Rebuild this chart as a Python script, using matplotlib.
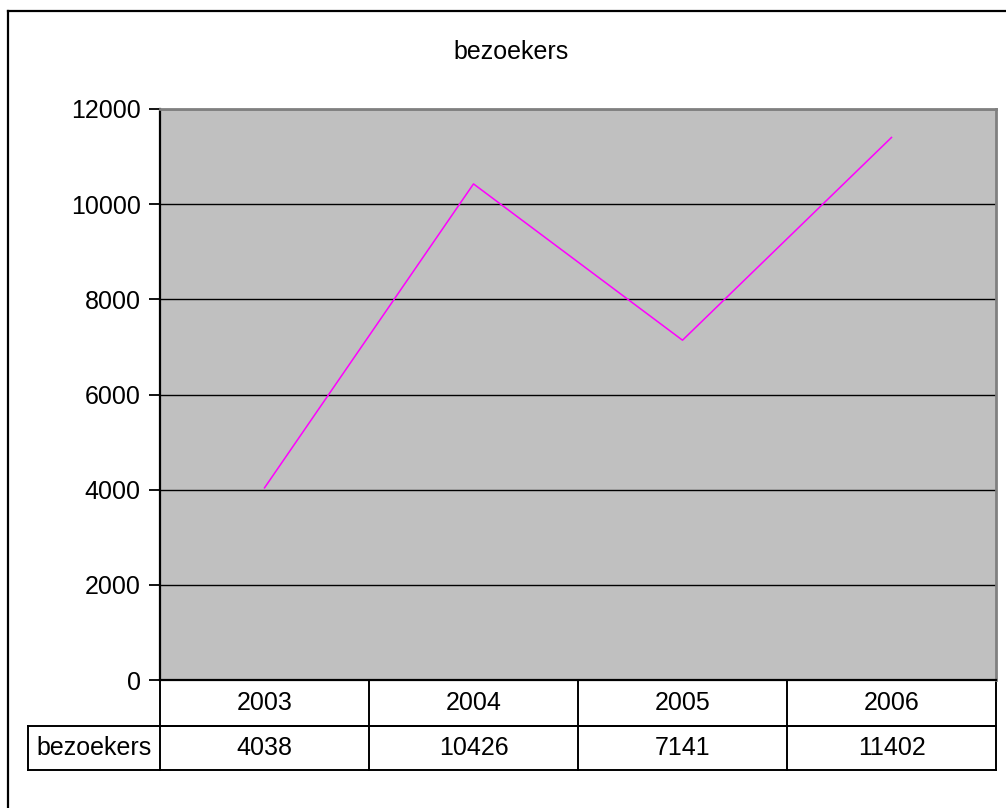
import numpy as np
import matplotlib
matplotlib.use("Agg")
import matplotlib.pyplot as plt
from matplotlib.lines import Line2D

# data
years = ["2003", "2004", "2005", "2006"]
bezoekers = [4038, 10426, 7141, 11402]
series_name = "bezoekers"
title = "bezoekers"
yticks = [0, 2000, 4000, 6000, 8000, 10000, 12000]

plt.rcParams['font.family'] = ['Liberation Sans', 'DejaVu Sans']
fs = 18

W, H = 1006, 808
fig = plt.figure(figsize=(W / 100, H / 100), dpi=100)

# outer chart border (only left/top visible in picture)
fig.add_artist(Line2D([8 / W, 8 / W], [0, 1 - 11 / H], color='black', lw=1.6))
fig.add_artist(Line2D([8 / W, 1], [1 - 11 / H, 1 - 11 / H], color='black', lw=1.6))

left, right, top, bottom = 160, 996, 109, 680
ax = fig.add_axes([left / W, 1 - bottom / H, (right - left) / W, (bottom - top) / H])
ax.set_facecolor('#C0C0C0')

x = np.arange(len(years))
ax.plot(x, bezoekers, color='#FF00FF', lw=1.1, zorder=3)
ax.set_xlim(-0.5, len(years) - 0.5)
ax.set_ylim(0, 12000)
ax.set_yticks(yticks)
ax.set_yticklabels([str(v) for v in yticks], fontsize=fs)
ax.set_xticks([])
ax.tick_params(axis='y', direction='out', length=8, width=1.3, pad=6)
ax.yaxis.grid(True, color='black', lw=1.0)
ax.set_axisbelow(True)

ax.spines['left'].set_color('black')
ax.spines['left'].set_linewidth(1.6)
ax.spines['bottom'].set_color('black')
ax.spines['bottom'].set_linewidth(1.6)
ax.spines['top'].set_color('#808080')
ax.spines['top'].set_linewidth(2)
ax.spines['right'].set_color('#808080')
ax.spines['right'].set_linewidth(2)

fig.text(511 / W, 1 - 52 / H, title, fontsize=fs, ha='center', va='center')

# data table under the plot (x in data units, y in axes units)
trans = ax.get_xaxis_transform()
plot_w = right - left
plot_h = bottom - top
col_px = plot_w / len(years)
lab_left = -0.5 - (left - 28) / col_px
y0 = 0
y1 = -(726 - bottom) / plot_h
y2 = -(770 - bottom) / plot_h
x_lo, x_hi = -0.5, len(years) - 0.5
kw = dict(color='black', lw=1.4, transform=trans, clip_on=False, solid_capstyle='projecting')
ax.plot([x_lo, x_hi], [y1, y1], **kw)
ax.plot([lab_left, x_hi], [y1, y1], **kw)
ax.plot([lab_left, x_hi], [y2, y2], **kw)
ax.plot([lab_left, lab_left], [y1, y2], **kw)
for b in np.arange(len(years) + 1) - 0.5:
    ax.plot([b, b], [y0, y2], **kw)
for i, (yr, v) in enumerate(zip(years, bezoekers)):
    ax.text(i, (y0 + y1) / 2, yr, transform=trans, ha='center', va='center', fontsize=fs)
    ax.text(i, (y1 + y2) / 2, str(v), transform=trans, ha='center', va='center', fontsize=fs)
ax.text((lab_left + x_lo) / 2, (y1 + y2) / 2, series_name, transform=trans,
        ha='center', va='center', fontsize=fs)

fig.savefig("out.png", dpi=100)
